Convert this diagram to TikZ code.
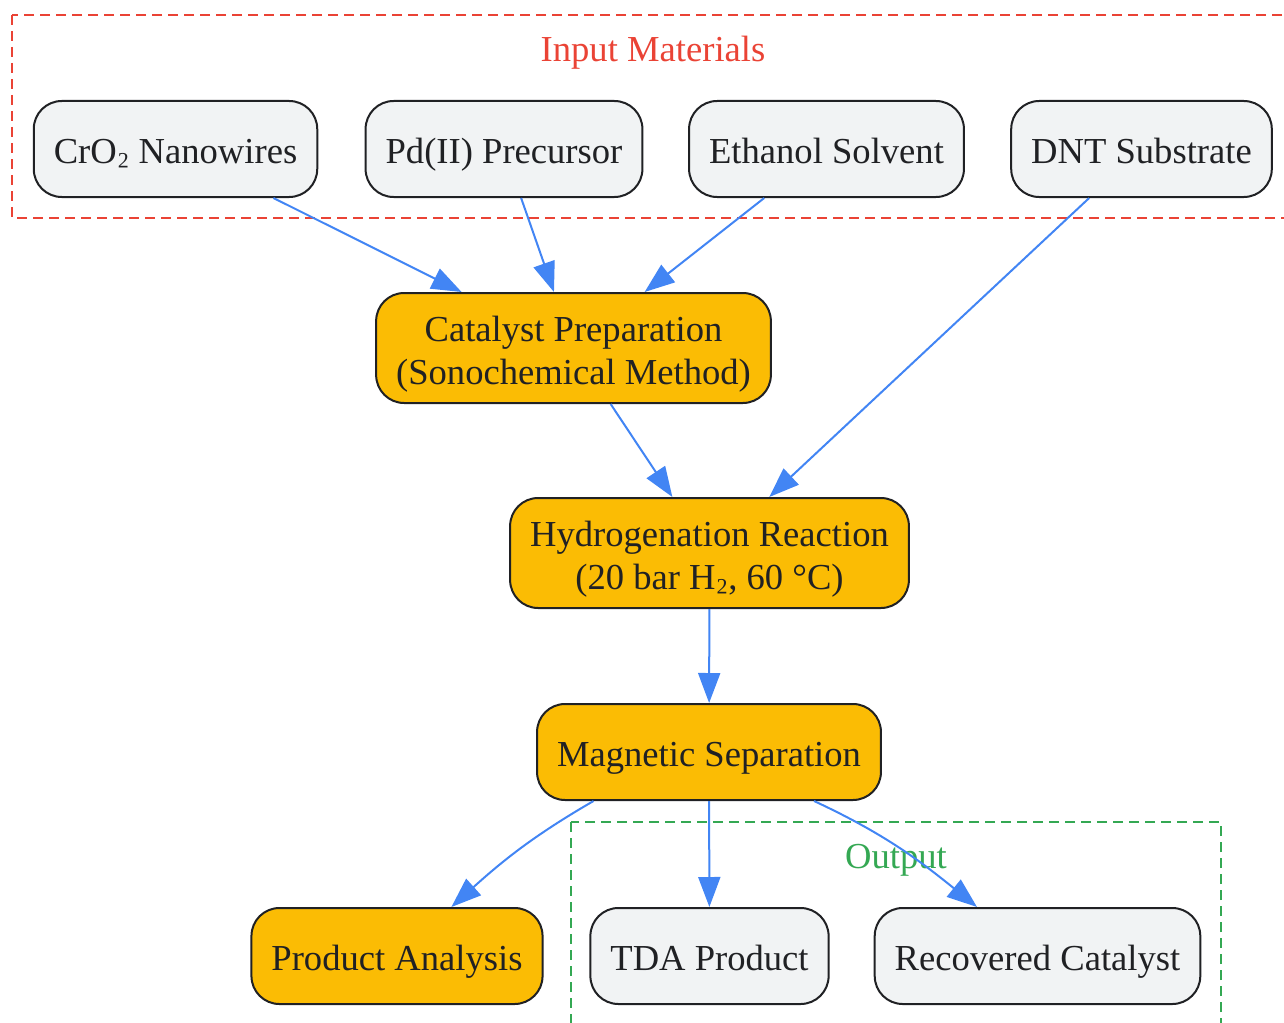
\documentclass[tikz,border=0pt]{standalone}
\usepackage{fontspec}
\setmainfont{Liberation Serif}
\usetikzlibrary{arrows.meta}
\definecolor{inputred}{HTML}{EA4335}
\definecolor{outgreen}{HTML}{34A853}
\definecolor{flowblue}{HTML}{4285F4}
\definecolor{stepgold}{HTML}{FBBC04}
\definecolor{boxgrey}{HTML}{F1F3F4}
\definecolor{inkdark}{HTML}{202124}
\newcommand{\subtwo}{\raisebox{1.5pt}[0pt][0pt]{₂}}
\newcommand{\tallrule}{\rule{0pt}{18.5pt}}
\newcommand{\deeprule}{\rule[-4pt]{0pt}{4pt}}
\begin{document}
\begin{tikzpicture}[x=0.5pt, y=-0.5pt, font=\fontsize{18.3pt}{21.5pt}\selectfont, line join=round, >={Triangle[length=15pt,width=11pt]},
	base/.style={draw=inkdark, line width=1pt, rounded corners=14pt, text=inkdark, align=center, inner xsep=10pt, minimum height=48pt},
	oneline/.style={text height=16pt, text depth=2pt},
	material/.style={base, oneline, fill=boxgrey},
	process/.style={base, oneline, fill=stepgold},
	twoline/.style={base, fill=stepgold, minimum height=55pt},
	flow/.style={->, draw=flowblue, line width=1pt},
	cluster/.style={dash pattern=on 5pt off 3pt, line width=1pt}]
		\useasboundingbox (0,0) rectangle (1284,1022);
		\path
		(175.5,149) coordinate (pcro)
		(504,149) coordinate (ppd)
		(826.5,149) coordinate (peth)
		(1141.5,149) coordinate (pdnt)
		(573.5,348) coordinate (pprep)
		(709.5,553) coordinate (phyd)
		(709,752) coordinate (psep)
		(397,956) coordinate (pana)
		(709.5,956) coordinate (ptda)
		(1037.5,956) coordinate (prec);
		% groups
		\draw [cluster, draw=inputred] (12,15) rectangle (1300,218);
		\draw [cluster, draw=outgreen] (571,822) rectangle (1221,1040);
		\node [text=inputred] (ttlin) at (653,53) {Input Materials};
		\node [text=outgreen] (ttlout) at (896,860) {Output};
		% steps
		\node [material] (cro) at (pcro) {CrO\subtwo{} Nanowires};
		\node [material] (pd) at (ppd) {Pd(II) Precursor};
		\node [material] (eth) at (peth) {Ethanol Solvent};
		\node [material] (dnt) at (pdnt) {DNT Substrate};
		\node [twoline] (prep) at (pprep) {\tallrule Catalyst Preparation\\(Sonochemical Method)\deeprule};
		\node [twoline] (hyd) at (phyd) {\tallrule Hydrogenation Reaction\\(20 bar H\subtwo, 60 °C)\deeprule};
		\node [process] (sep) at (psep) {Magnetic Separation};
		\node [process] (ana) at (pana) {Product Analysis};
		\node [material] (tda) at (ptda) {TDA Product};
		\node [material] (rec) at (prec) {Recovered Catalyst};
		\foreach \a/\b in {cro/prep, pd/prep, eth/prep, dnt/hyd, prep/hyd, hyd/sep, sep/tda}
		\draw [flow] (\a) -- (\b);
		\draw [flow] (sep.203) to[out=-150, in=42] (ana);
		\draw [flow] (sep) to[out=-25, in=141] (rec);
	\end{tikzpicture}
\end{document}
